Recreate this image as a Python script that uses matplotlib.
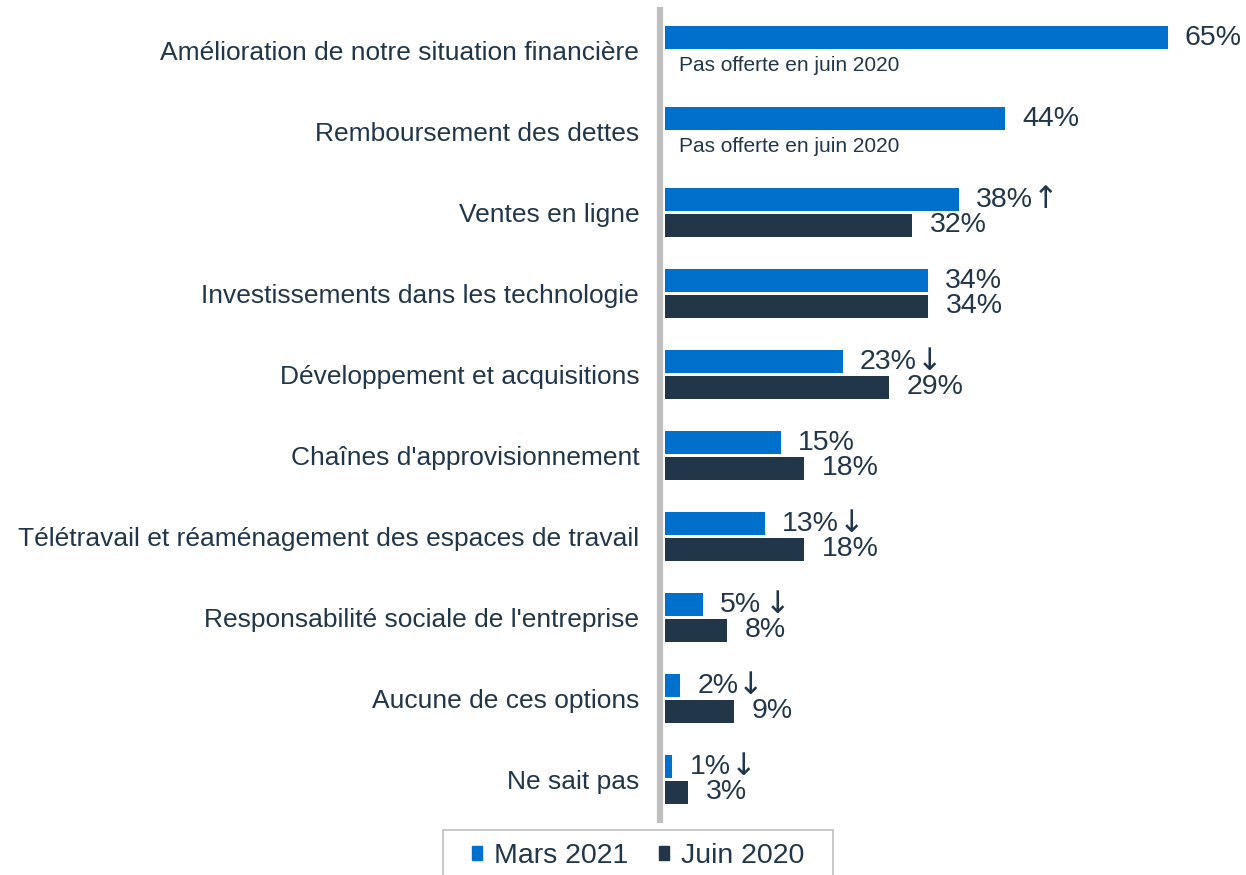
import matplotlib
matplotlib.use('Agg')
import matplotlib.pyplot as plt
from matplotlib.patches import Patch, Rectangle
import numpy as np

plt.rcParams['font.family'] = ['Liberation Sans', 'DejaVu Sans']

categories = ['Amélioration de notre situation financière',
              'Remboursement des dettes',
              'Ventes en ligne',
              'Investissements dans les technologie',
              'Développement et acquisitions',
              "Chaînes d'approvisionnement",
              'Télétravail et réaménagement des espaces de travail',
              "Responsabilité sociale de l'entreprise",
              'Aucune de ces options',
              'Ne sait pas']
mars_2021 = [65, 44, 38, 34, 23, 15, 13, 5, 2, 1]
juin_2020 = [None, None, 32, 34, 29, 18, 18, 8, 9, 3]
tendance = ['', '', '↑', '', '↓', '', '↓', '↓', '↓', '↓']
note = 'Pas offerte en juin 2020'

bleu = '#0070CD'
marine = '#22364A'
texte = '#22364A'

fig = plt.figure(figsize=(12.46, 8.75), dpi=100)
ax = fig.add_axes([660/1246, 55/875, 586/1246, 810/875])

y = np.arange(len(categories))
h = 0.28
off = 0.157

for i in range(len(categories)):
    ax.barh(y[i] - off, mars_2021[i], height=h, color=bleu)
    t = ax.text(mars_2021[i] + 2.2, y[i] - off, f'{mars_2021[i]}%',
                va='center', ha='left', fontsize=20.5, color=texte)
    if tendance[i]:
        gap = 2.5 if mars_2021[i] == 5 else 0
        ax.annotate(tendance[i], xy=(1, 0.5), xycoords=t, xytext=(gap, 0),
                    textcoords='offset points', va='center', ha='left',
                    fontsize=22, color=texte, family='DejaVu Sans')
    if juin_2020[i] is None:
        ax.text(1.8, y[i] + off + 0.03, note, va='center', ha='left',
                fontsize=15, color=texte)
    else:
        ax.barh(y[i] + off, juin_2020[i], height=h, color=marine)
        ax.text(juin_2020[i] + 2.3, y[i] + off, f'{juin_2020[i]}%',
                va='center', ha='left', fontsize=20.5, color=texte)

ax.set_xlim(-0.6, 75.1)
ax.set_ylim(9.5, -0.5)
ax.set_yticks(y)
ax.set_yticklabels(categories, fontsize=19, color=texte)
ax.tick_params(axis='y', length=0, pad=15)
ax.set_xticks([])
for s in ['top', 'right', 'bottom']:
    ax.spines[s].set_visible(False)
ax.spines['left'].set_color('#BFBFBF')
ax.spines['left'].set_linewidth(4.5)

# legend: frame drawn separately, it runs past the bottom edge
fig.patches.append(Rectangle((443/1246, -0.02), 390/1246, 0.02 + 45/875,
                             transform=fig.transFigure, fill=False,
                             edgecolor='#BFBFBF', linewidth=1.2))
handles = [Patch(color=bleu, label='Mars 2021'), Patch(color=marine, label='Juin 2020')]
leg = fig.legend(handles=handles, loc='center', bbox_to_anchor=(638/1246, 1 - 856/875),
                 ncol=2, fontsize=20.5, frameon=False,
                 handlelength=0.36, handleheight=0.36, handletextpad=0.4,
                 columnspacing=1.1, borderpad=0, borderaxespad=0)
for t in leg.get_texts():
    t.set_color(texte)

fig.savefig('out.png', dpi=100)
